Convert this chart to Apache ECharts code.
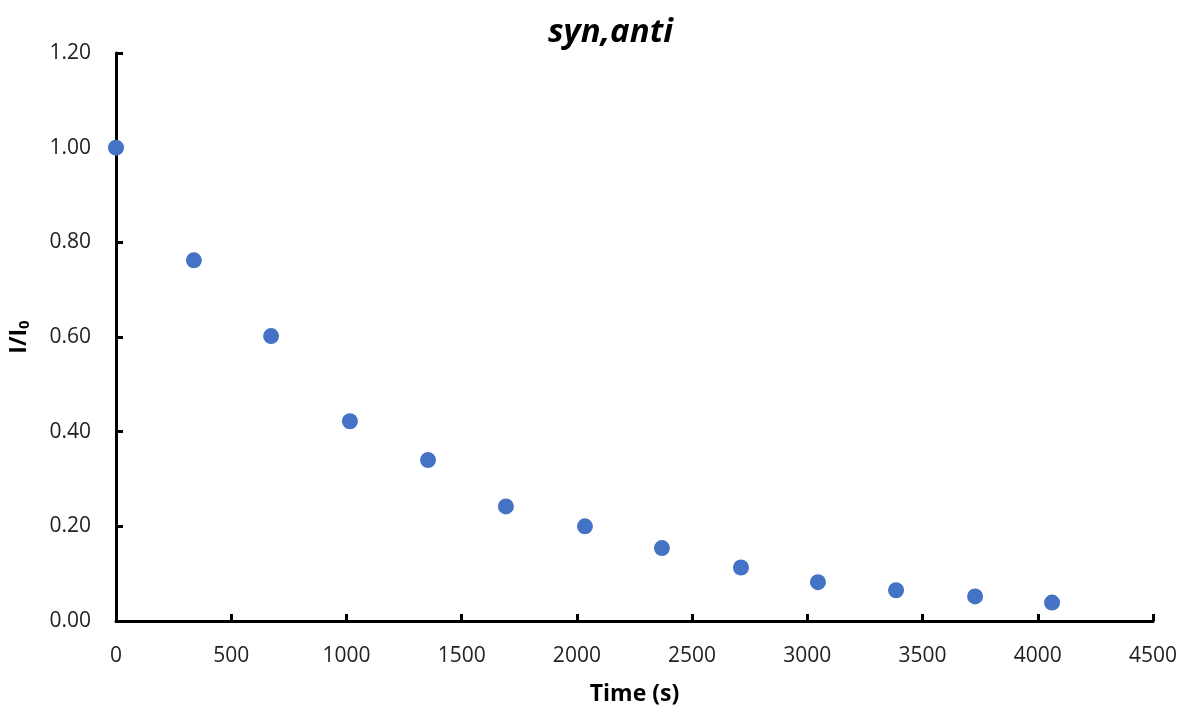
<!DOCTYPE html>
<html>
<head>
<meta charset="utf-8">
<script src="https://cdn.jsdelivr.net/npm/echarts@6/dist/echarts.min.js"></script>
<style>
  html, body { margin: 0; padding: 0; background: #fff; }
  #chart { width: 1183px; height: 711px; }
</style>
</head>
<body>
<div id="chart"></div>
<script>
// time (s) and normalised intensity I/I0
var timeValues = [0, 338, 673, 1015, 1354, 1692, 2035, 2369, 2712, 3046, 3385, 3728, 4062];
var ratioValues = [1.00, 0.762, 0.602, 0.422, 0.340, 0.242, 0.200, 0.154, 0.113, 0.082, 0.065, 0.052, 0.039];

var points = timeValues.map(function (t, i) { return [t, ratioValues[i]]; });

var chart = echarts.init(document.getElementById('chart'));
var font = '"Open Sans", "Liberation Sans", sans-serif';

chart.setOption({
    animation: false,
    title: {
        text: 'syn,anti',
        left: 543,
        top: 11,
        textStyle: { fontFamily: font, fontSize: 33, fontWeight: 'bold', fontStyle: 'italic', color: '#000' }
    },
    grid: { left: 116, right: 30, top: 53, bottom: 90 },
    xAxis: {
        type: 'value',
        min: 0,
        max: 4500,
        interval: 500,
        name: 'Time (s)',
        nameLocation: 'middle',
        nameGap: 62,
        nameTextStyle: { fontFamily: font, fontSize: 23, fontWeight: 'bold', color: '#000' },
        axisLine: { lineStyle: { color: '#000', width: 3 } },
        axisTick: { inside: true, length: 7, lineStyle: { color: '#000', width: 3 } },
        axisLabel: {
            fontFamily: font, fontSize: 21, color: '#222', margin: 25,
            formatter: function (v) { return String(v); }
        },
        splitLine: { show: false }
    },
    yAxis: {
        type: 'value',
        min: 0,
        max: 1.2,
        interval: 0.2,
        name: '{a|I/I}{b|0}',
        nameLocation: 'middle',
        nameGap: 84,
        nameTextStyle: {
            rich: {
                a: { fontFamily: font, fontSize: 23, fontWeight: 'bold', color: '#000' },
                b: { fontFamily: font, fontSize: 15, fontWeight: 'bold', color: '#000', padding: [10, 0, 0, 0] }
            }
        },
        axisLine: { lineStyle: { color: '#000', width: 3 } },
        axisTick: { inside: true, length: 7, lineStyle: { color: '#000', width: 3 } },
        axisLabel: {
            fontFamily: font, fontSize: 21, color: '#222', margin: 25,
            formatter: function (v) { return v.toFixed(2); }
        },
        splitLine: { show: false }
    },
    series: [{
        type: 'scatter',
        data: points,
        symbolSize: 16,
        itemStyle: { color: '#4472C4', opacity: 1 }
    }]
});
</script>
</body>
</html>
